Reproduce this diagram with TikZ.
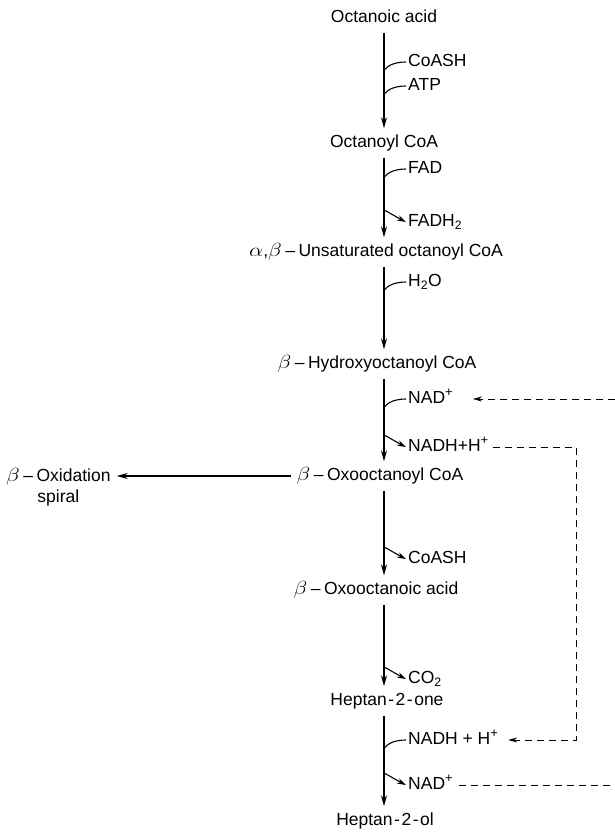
\documentclass[tikz,border=0pt]{standalone}
\usepackage{fontspec}
\usepackage{graphicx}
\setmainfont{Liberation Sans}
\usetikzlibrary{arrows.meta,calc}
\newcommand{\gk}[1]{\scalebox{1.3}[1.1]{$#1$}}
\newcommand{\gdash}{\hspace{3.5pt}--\hspace{3.5pt}}
\newcommand{\hy}{\hspace{1.5pt}-\hspace{1.5pt}}
\newcommand{\plus}{\raisebox{7pt}{\fontsize{13}{13}\selectfont +}}
\tikzset{
	chem/.style={inner sep=6pt, text height=13pt, text depth=4pt, font=\fontsize{17.5}{21}\selectfont},
	cofac/.style={chem, anchor=west, inner sep=2pt},
	mainarr/.style={line width=1.3pt, -{Stealth[length=11pt,width=6pt]}},
	into/.style={line width=1.1pt},
	outof/.style={line width=1.1pt, -{Stealth[length=9pt,width=5.5pt]}},
	recyc/.style={line width=0.9pt, dash pattern=on 7pt off 5pt}
}

\begin{document}
\begin{tikzpicture}[x=1pt,y=-1pt]
			%%%%% START %%%%%
			\useasboundingbox (0,0) rectangle (615,835);
			\coordinate (spine) at (384,0);
			
			\node[chem] (octacid) at (384,18) {Octanoic acid};
			\node[chem] (octcoa) at (384,143) {Octanoyl CoA};
			\node[chem] (unsat) at (376,252) {\gk{\alpha},\gk{\beta}\gdash Unsaturated octanoyl CoA};
			\node[chem] (hydroxy) at (377,364) {\gk{\beta}\gdash Hydroxyoctanoyl CoA};
			\node[chem] (oxocoa) at (380,476) {\gk{\beta}\gdash Oxooctanoyl CoA};
			\node[chem] (oxoacid) at (376,590) {\gk{\beta}\gdash Oxooctanoic acid};
			\node[chem] (heptone) at (387,701) {Heptan\hy 2\hy one};
			\node[chem] (heptol) at (385,821) {Heptan\hy 2\hy ol};
			
			\node[chem, inner sep=2pt, align=center, anchor=north west, text height=, text depth=] (spiral) at (4,466) {\gk{\beta}\gdash Oxidation\\spiral};
			
			\draw[mainarr] (octacid.south -| spine) -- (octcoa.north -| spine);
			\draw[mainarr] (octcoa.south -| spine) -- (unsat.north -| spine);
			\draw[mainarr] (unsat.south -| spine) -- (hydroxy.north -| spine);
			\draw[mainarr] (hydroxy.south -| spine) -- (oxocoa.north -| spine);
			\draw[mainarr] (oxocoa.south -| spine) -- (oxoacid.north -| spine);
			\draw[mainarr] (oxoacid.south -| spine) -- (heptone.north -| spine);
			\draw[mainarr] (heptone.south -| spine) -- (heptol.north -| spine);
			\draw[mainarr, shorten >=4pt] (oxocoa.west) -- (spiral.east |- oxocoa.west);
			
			% cofactors going in
			\node[cofac] (coashin) at (406,62) {CoASH};
			\node[cofac] (atp) at (406,86) {ATP};
			\node[cofac] (fad) at (406,169) {FAD};
			\node[cofac] (water) at (406,282) {H\textsubscript{2}O};
			\node[cofac] (nadtop) at (406,399) {NAD\plus};
			\node[cofac] (nadhlow) at (406,740) {NADH + H\plus};
			\foreach \c in {coashin,atp,fad,water,nadtop,nadhlow}
				\draw[into] ($(\c.west -| spine)+(0,9)$) .. controls +(3,-6) and +(-10,0) .. (\c.west);
			
			% products going out
			\node[cofac] (fadh) at (406,222) {FADH\textsubscript{2}};
			\node[cofac] (nadhtop) at (406,447) {NADH+H\plus};
			\node[cofac] (coashout) at (406,559) {CoASH};
			\node[cofac] (co2) at (406,679) {CO\textsubscript{2}};
			\node[cofac] (nadlow) at (406,785) {NAD\plus};
			\foreach \c in {fadh,nadhtop,coashout,co2,nadlow}
				\draw[outof] ($(\c.west -| spine)+(0,-12)$) .. controls +(6,3) and +(-8,-4) .. (\c.west);
			
			% recycling of NAD
			\coordinate (rimtop) at (615,399);
			\coordinate (rimlow) at (615,785);
			\coordinate (loopx) at (576,0);
			\draw[recyc, -{Stealth[length=9pt,width=5pt]}, shorten >=18pt] (rimtop) -- (nadtop.east);
			\draw[recyc, -{Stealth[length=9pt,width=5pt]}, shorten <=3pt, shorten >=8pt] (nadhtop.east) -| (loopx |- nadhlow.east) -- (nadhlow.east);
			\draw[recyc, shorten <=4pt] (nadlow.east) -- (rimlow);
			%%%%% END %%%%%
\end{tikzpicture}
\end{document}
